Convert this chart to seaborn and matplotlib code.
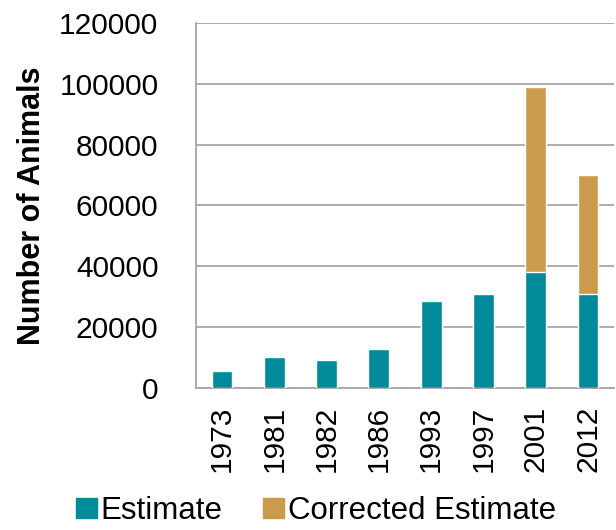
import matplotlib
matplotlib.use("Agg")
import matplotlib.pyplot as plt
import seaborn as sns
import pandas as pd
from matplotlib.ticker import FixedLocator
from matplotlib.patches import Patch

years = ["1973", "1981", "1982", "1986", "1993", "1997", "2001", "2012"]
estimate = [5700, 10200, 9300, 12800, 28700, 30900, 38000, 31000]
corrected = [0, 0, 0, 0, 0, 0, 61000, 39000]

teal = "#008A9A"
tan = "#CC9A4B"
grid_c = "#A6A6A6"

sns.set_style("white")
plt.rcParams["font.family"] = ["Liberation Sans", "DejaVu Sans"]
plt.rcParams["text.color"] = "black"
plt.rcParams["xtick.color"] = "black"
plt.rcParams["ytick.color"] = "black"
plt.rcParams["axes.labelcolor"] = "black"

df = pd.DataFrame({"year": years, "Estimate": estimate,
                   "total": [a + b for a, b in zip(estimate, corrected)]})

fig = plt.figure(figsize=(6.16, 5.30), dpi=100)
ax = fig.add_axes([0.318, 0.268, 0.679, 0.689])

# stacked: draw totals first, then the estimate over them
sns.barplot(data=df, x="year", y="total", color=tan, width=0.4,
            saturation=1, ax=ax, zorder=3)
sns.barplot(data=df, x="year", y="Estimate", color=teal, width=0.4,
            saturation=1, ax=ax, zorder=3)

ax.set_ylim(0, 120000)
ax.set_xlim(-0.5, 7.5)
ax.set_yticks(range(0, 120001, 20000))
ax.yaxis.grid(True, color=grid_c, linewidth=1.3, zorder=0)
ax.set_axisbelow(True)
for s in ["top", "right"]:
    ax.spines[s].set_visible(False)
for s in ["left", "bottom"]:
    ax.spines[s].set_color(grid_c)
    ax.spines[s].set_linewidth(1.3)

ax.tick_params(axis="y", labelsize=21.5, length=9, width=1.3, color=grid_c, pad=18)
ax.tick_params(axis="x", which="major", labelsize=21.5, length=0, pad=13,
               labelrotation=90)
ax.xaxis.set_minor_locator(FixedLocator([i - 0.5 for i in range(len(years) + 1)]))
ax.tick_params(axis="x", which="minor", length=9, color=grid_c, width=1.3)

ax.set_xlabel("")
ax.set_ylabel("Number of Animals", fontsize=22, fontweight="bold", labelpad=9)

handles = [Patch(color=teal, label="Estimate"),
           Patch(color=tan, label="Corrected Estimate")]
fig.legend(handles=handles, loc="lower center", bbox_to_anchor=(0.513, -0.045),
           ncol=2, frameon=False, fontsize=22.5, handlelength=0.67,
           handleheight=0.6, handletextpad=0.13, columnspacing=1.3)

fig.savefig("out.png", dpi=100)
